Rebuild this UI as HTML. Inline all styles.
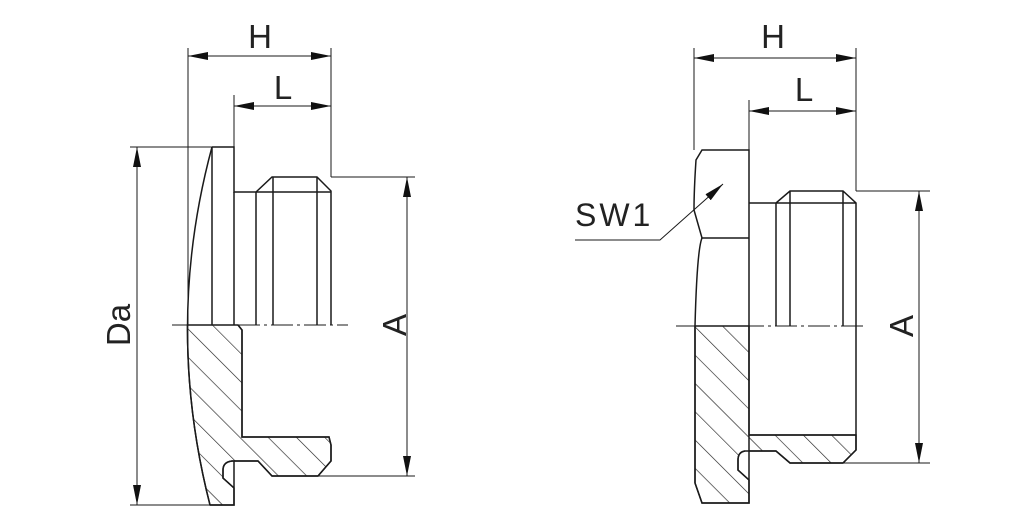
<!DOCTYPE html>
<html><head><style>html,body{margin:0;padding:0;background:#fff}svg{display:block}</style></head><body>
<svg width="1034" height="523" viewBox="0 0 1034 523" xmlns="http://www.w3.org/2000/svg">
<defs>
<pattern id="h" patternUnits="userSpaceOnUse" width="20" height="20" patternTransform="rotate(-45)">
<line x1="0" y1="0" x2="0" y2="20" stroke="#222" stroke-width="1.3"/>
</pattern>
<marker id="a" viewBox="0 0 20 8" refX="20" refY="4" markerWidth="20" markerHeight="8" orient="auto-start-reverse" markerUnits="userSpaceOnUse"><path d="M0,0 L20,4 L0,8z" fill="#111"/></marker>
</defs>
<g fill="none" stroke="#1a1a1a" stroke-width="1.5">
<!-- LEFT -->
<path d="M238,325 L242,330 L242,437 L329,437 L331,445 L331,461 L318,476 L272,476 L258,461 L232,461 Q223,462 223,470 L223,478 L234,488 L234,505 L210,505 Q187,415 187.5,325 Z" fill="url(#h)"/>
<path d="M212,147 Q164,325 210,505" />
<path d="M212,147 L234,147 L234,192 L256,192 L272,177 L317,177 L331,191 L331,325"/>
<path d="M212,147 L212,325 M234,192 L234,325 M256,192 L256,325 M273,177 L273,325 M317,177 L317,325 M256,192 L331,192"/>
<path d="M238,325 L242,330 L242,437 L329,437 L331,445 L331,461 L318,476 L272,476 L258,461 L232,461 Q223,462 223,470 L223,478 L234,488 M234,461 L234,505 L210,505"/>
<path d="M172,325 L348,325" stroke-dasharray="22,4,3,4" stroke-width="1"/>
<g stroke-width="1">
<path d="M188,48 L188,325 M331,48 L331,177 M234,95 L234,147 M130,147 L212,147 M130,505 L210,505 M331,177 L415,177 M318,476 L415,476"/>
<path d="M188,56 L331,56" marker-start="url(#a)" marker-end="url(#a)"/>
<path d="M234,106 L331,106" marker-start="url(#a)" marker-end="url(#a)"/>
<path d="M137,147 L137,505" marker-start="url(#a)" marker-end="url(#a)"/>
<path d="M407,177 L407,476" marker-start="url(#a)" marker-end="url(#a)"/>
</g>
<!-- RIGHT -->
<path d="M695,326 L749,326 L749,435 L856,435 L856,450 L843,463 L790,463 L776,451 L745,451 Q738,452 738,460 L738,470 L749,480 L749,503 L702,503 L695,483 Z" fill="url(#h)"/>
<path d="M745,451 Q738,452 738,460 L738,470 L749,480"/>
<path d="M695,326 L695,483 L702,503 L749,503 L749,150 L702,150 L696,160 Q694,190 694,210 L702,238 L749,238"/>
<path d="M702,238 Q697,250 695,326"/>
<path d="M749,203 L776,203 L790,191 L843,191 L856,203 L856,450 L843,463 L790,463 L776,451 L749,451 M776,203 L776,326 M790,191 L790,326 M843,191 L843,326 M749,435 L856,435 M776,203 L856,203"/>
<path d="M676,326 L866,326" stroke-dasharray="22,4,3,4" stroke-width="1"/>
<g stroke-width="1">
<path d="M694,48 L694,150 M856,48 L856,191 M749,100 L749,150 M856,191 L930,191 M790,463 L930,463"/>
<path d="M694,58 L856,58" marker-start="url(#a)" marker-end="url(#a)"/>
<path d="M749,111 L856,111" marker-start="url(#a)" marker-end="url(#a)"/>
<path d="M919,191 L919,463" marker-start="url(#a)" marker-end="url(#a)"/>
<path d="M575,240 L660,240 L723,184" marker-end="url(#a)"/>
</g>
</g>
<g font-family="Liberation Sans, sans-serif" font-size="33" fill="#222">
<text x="260" y="48" text-anchor="middle">H</text>
<text x="283" y="99" text-anchor="middle">L</text>
<text x="773" y="48" text-anchor="middle">H</text>
<text x="804" y="101" text-anchor="middle">L</text>
<text x="575" y="226" letter-spacing="3" font-size="32">SW1</text>
<text transform="translate(130,325) rotate(-90)" text-anchor="middle">Da</text>
<text transform="translate(406,325) rotate(-90)" text-anchor="middle">A</text>
<text transform="translate(913,326) rotate(-90)" text-anchor="middle">A</text>
</g>
</svg>
</body></html>
